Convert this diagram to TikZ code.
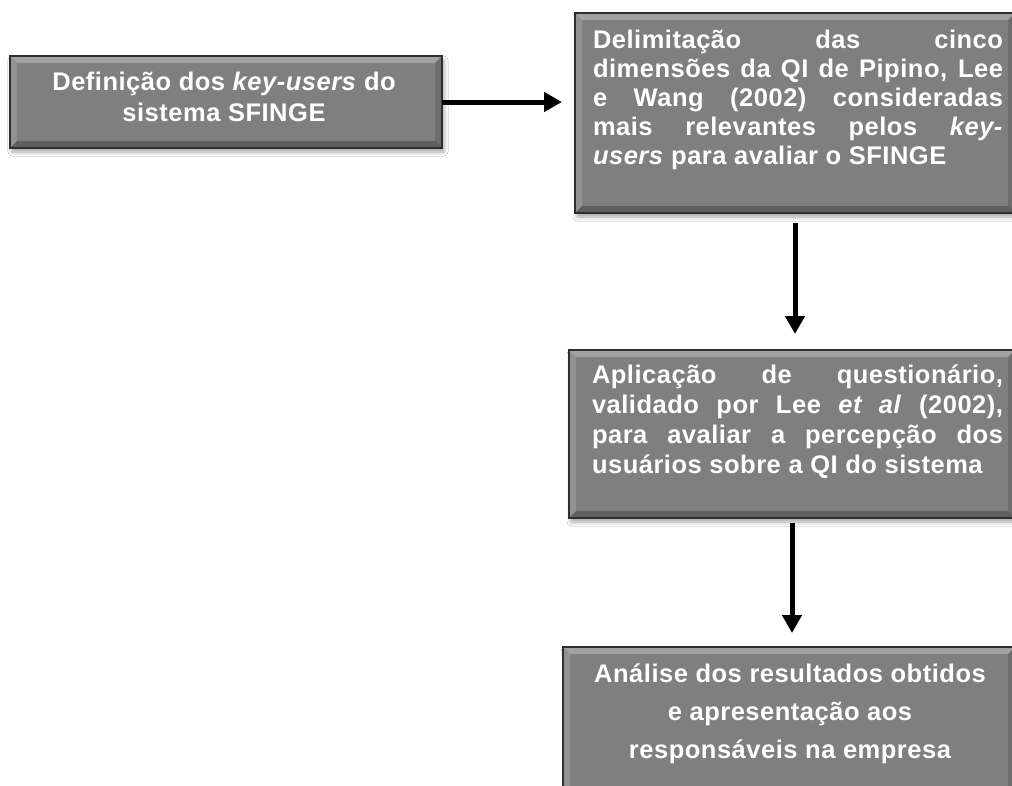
\documentclass[tikz,border=0pt]{standalone}
\usepackage{fontspec}
\newfontfamily\boxfont{Liberation Sans}[LetterSpace=2]
\usetikzlibrary{arrows.meta,shadows.blur}
\definecolor{boxgray}{HTML}{7F7F7F}
\definecolor{boxedge}{HTML}{2E2E2E}
\newcommand\JL[2]{\hbox to #1{#2}}
\newcommand\LL[2]{\hbox to #1{#2\hfil}}
\newcommand\CL[2]{\hbox to #1{\hfil#2\hfil}}
\tikzset{
  bevelbox/.style={rectangle, draw=boxedge, line width=2pt, fill=boxgray,
    inner sep=0pt, outer sep=0pt, anchor=north west,
    blur shadow={shadow xshift=2pt, shadow yshift=-4pt, shadow blur radius=4pt, shadow opacity=35},
    path picture={
      \fill[white,opacity=0.28] (path picture bounding box.north west) -- (path picture bounding box.north east)
        -- ([xshift=-7pt,yshift=-7pt]path picture bounding box.north east) -- ([xshift=7pt,yshift=-7pt]path picture bounding box.north west) -- cycle;
      \fill[white,opacity=0.14] (path picture bounding box.north west) -- ([xshift=7pt,yshift=-7pt]path picture bounding box.north west)
        -- ([xshift=7pt,yshift=7pt]path picture bounding box.south west) -- (path picture bounding box.south west) -- cycle;
      \fill[black,opacity=0.14] (path picture bounding box.north east) -- ([xshift=-7pt,yshift=-7pt]path picture bounding box.north east)
        -- ([xshift=-7pt,yshift=7pt]path picture bounding box.south east) -- (path picture bounding box.south east) -- cycle;
      \fill[black,opacity=0.25] (path picture bounding box.south west) -- (path picture bounding box.south east)
        -- ([xshift=-7pt,yshift=7pt]path picture bounding box.south east) -- ([xshift=7pt,yshift=7pt]path picture bounding box.south west) -- cycle;
    }},
  boxtext/.style={inner sep=0pt, outer sep=0pt, text=white,
    font=\boxfont\bfseries\fontsize{25.5}{29}\selectfont},
  arr/.style={line width=5pt, -{Triangle[length=18pt,width=19pt]}}
}
\begin{document}
\begin{tikzpicture}[x=1pt,y=-1pt]
\useasboundingbox (0,0) rectangle (1012,785);
\clip (0,0) rectangle (1012,785);
\fill[white] (0,0) rectangle (1012,785);
% boxes
\node[bevelbox, minimum width=432pt, minimum height=92pt] (b1) at (10,56) {};
\node[bevelbox, minimum width=440pt, minimum height=200pt] (b2) at (575,13) {};
\node[bevelbox, minimum width=446pt, minimum height=168pt] (b3) at (569,350) {};
\node[bevelbox, minimum width=452pt, minimum height=160pt] (b4) at (563,647) {};
% texts
\node[boxtext, anchor=base] (t1) at (224,90) {\vtop{\baselineskip=31pt
  \CL{420pt}{Definição dos \textit{key-users} do}
  \CL{420pt}{sistema SFINGE}}};
\node[boxtext, anchor=base west] (t2) at (593,48) {\vtop{\baselineskip=29pt
  \JL{410pt}{Delimitação das cinco}
  \JL{410pt}{dimensões da QI de Pipino, Lee}
  \JL{410pt}{e Wang (2002) consideradas}
  \JL{410pt}{mais relevantes pelos \textit{key-}}
  \LL{410pt}{\textit{users} para avaliar o SFINGE}}};
\node[boxtext, anchor=base west] (t3) at (592,383) {\vtop{\baselineskip=30pt
  \JL{411pt}{Aplicação de questionário,}
  \JL{411pt}{validado por Lee \textit{et al} (2002),}
  \JL{411pt}{para avaliar a percepção dos}
  \LL{411pt}{usuários sobre a QI do sistema}}};
\node[boxtext, anchor=base] (t4) at (790,682) {\vtop{\baselineskip=38pt
  \CL{440pt}{Análise dos resultados obtidos}
  \CL{440pt}{e apresentação aos}
  \CL{440pt}{responsáveis na empresa}}};
% arrows
\draw[arr, shorten >=13pt] (b1.east) -- (b1.east -| b2.west);
\draw[arr, shorten <=10pt, shorten >=16pt] (b2.south) -- (b2.south |- b3.north);
\draw[arr, shorten <=5pt, shorten >=14pt] (b3.south) -- (b3.south |- b4.north);
\end{tikzpicture}
\end{document}
